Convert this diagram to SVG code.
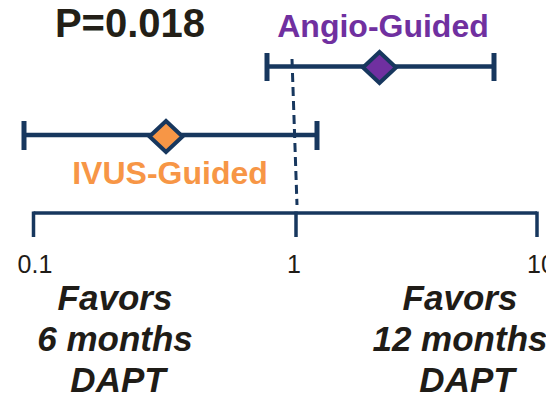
<svg xmlns="http://www.w3.org/2000/svg" width="546" height="396" viewBox="0 0 546 396">
<style>
.ln{stroke:#17375e;stroke-width:4.5;fill:none}
.cap{stroke:#17375e;stroke-width:5;fill:none}
.ax{stroke:#17375e;stroke-width:3.5;fill:none}
.dm{stroke:#17375e;stroke-width:4;stroke-linejoin:miter}
.t{font-family:"Liberation Sans",Arial,sans-serif}
.fav{font-family:"Liberation Sans",Arial,sans-serif;font-weight:bold;font-style:italic;font-size:35px;fill:#1f1c17;text-anchor:middle}
.num{font-family:"Liberation Sans",Arial,sans-serif;font-size:25px;fill:#1f1c17;text-anchor:middle}
</style>
<rect width="546" height="396" fill="#ffffff"/>
<g id="pvalue"><text class="t" x="130" y="37" font-size="40" font-weight="bold" fill="#231f17" text-anchor="middle">P=0.018</text></g>
<g id="connectors">
<line class="ax" x1="33.5" y1="213" x2="537" y2="213"/>
<line class="ax" x1="33.5" y1="211.5" x2="33.5" y2="237"/>
<line class="ax" x1="296" y1="211.5" x2="296" y2="237"/>
<line class="ax" x1="537" y1="211.5" x2="537" y2="237"/>
<line x1="292" y1="59" x2="297" y2="205" stroke="#17375e" stroke-width="3" stroke-dasharray="9,5"/>
</g>
<g id="angio">
<line class="ln" x1="267" y1="66.5" x2="494" y2="66.5"/>
<line class="cap" x1="267" y1="53" x2="267" y2="81"/>
<line class="cap" x1="494" y1="53" x2="494" y2="81"/>
<polygon class="dm" points="379.5,52 396,67.5 379.5,83 363,67.5" fill="#7030a0"/>
<text class="t" x="383" y="37" font-size="32" font-weight="bold" fill="#7030a0" text-anchor="middle">Angio-Guided</text>
</g>
<g id="ivus">
<line class="ln" x1="24" y1="135" x2="317" y2="135"/>
<line class="cap" x1="24" y1="121" x2="24" y2="150"/>
<line class="cap" x1="317" y1="121" x2="317" y2="150"/>
<polygon class="dm" points="166,121 182.5,136.5 166,152 149.5,136.5" fill="#f79646"/>
<text class="t" x="170" y="184" font-size="32" font-weight="bold" fill="#f79646" text-anchor="middle">IVUS-Guided</text>
</g>
<g id="axis-labels">
<text class="num" x="35" y="273">0.1</text>
<text class="num" x="294" y="273">1</text>
<text class="num" x="541" y="273">10</text>
</g>
<g id="favors-left">
<text class="fav" x="115" y="310">Favors</text>
<text class="fav" x="115" y="351">6 months</text>
<text class="fav" x="118" y="392">DAPT</text>
</g>
<g id="favors-right">
<text class="fav" x="460" y="310">Favors</text>
<text class="fav" x="460" y="351">12 months</text>
<text class="fav" x="467" y="392">DAPT</text>
</g>
</svg>
